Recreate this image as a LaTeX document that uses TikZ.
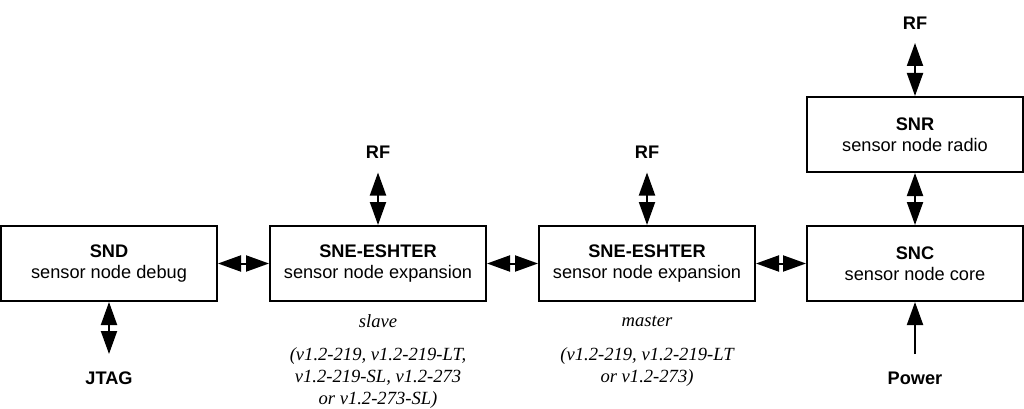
\documentclass[tikz,border=0pt]{standalone}
\usepackage{fontspec}
\setmainfont{Liberation Sans}
\newfontfamily\serifit{Liberation Serif}
\usetikzlibrary{arrows.meta}
\tikzset{
  blk/.style={draw=black, line width=2pt, minimum width=216pt, minimum height=75pt, align=center, inner sep=0pt, font=\fontsize{18.2}{21}\selectfont},
  lbl/.style={font=\fontsize{18.2}{21}\selectfont\bfseries, inner sep=0pt},
  note/.style={font=\fontsize{18.6}{22}\selectfont\serifit\itshape, align=center, inner sep=0pt},
  biarrow/.style={line width=2pt, {Triangle[length=23pt,width=16pt]}-{Triangle[length=23pt,width=16pt]}},
  uparrow/.style={line width=2pt, -{Triangle[length=23pt,width=16pt]}},
}
\begin{document}
\begin{tikzpicture}[x=1pt,y=-1pt]
\useasboundingbox[fill=white] (0,0) rectangle (1024,409);
\node[blk] (snd) at (109,263.5) {\textbf{SND}\\sensor node debug};
\node[blk] (sne1) at (378,263.5) {\textbf{SNE-ESHTER}\\sensor node expansion};
\node[blk] (sne2) at (647,263.5) {\textbf{SNE-ESHTER}\\sensor node expansion};
\node[blk] (snc) at (915,263.5) {\textbf{SNC}\\sensor node core};
\node[blk] (snr) at (915,134.5) {\textbf{SNR}\\sensor node radio};

\node[lbl] (rf1) at (378,152) {RF};
\node[lbl] (rf2) at (647,152) {RF};
\node[lbl] (rf3) at (915,23) {RF};
\node[lbl] (jtag) at (109,378) {JTAG};
\node[lbl] (power) at (915,378) {Power};

\coordinate (rf1e) at (378,172.5);
\coordinate (rf2e) at (647,172.5);
\coordinate (rf3e) at (915,43);
\coordinate (jtage) at (109,354);
\coordinate (powere) at (915,354);

\node[note] (slave) at (378,321) {slave};
\node[note] (master) at (647,321) {master};
\node[note, anchor=north] (v1) at (378,347) {(v1.2-219, v1.2-219-LT,\\v1.2-219-SL, v1.2-273\\or v1.2-273-SL)};
\node[note, anchor=north] (v2) at (647,347) {(v1.2-219, v1.2-219-LT\\or v1.2-273)};

\draw[biarrow] (snd.east) -- (sne1.west);
\draw[biarrow] (sne1.east) -- (sne2.west);
\draw[biarrow] (sne2.east) -- (snc.west);
\draw[biarrow] (sne1.north) -- (rf1e);
\draw[biarrow] (sne2.north) -- (rf2e);
\draw[biarrow] (snr.north) -- (rf3e);
\draw[biarrow] (snr.south) -- (snc.north);
\draw[biarrow] (snd.south) -- (jtage);
\draw[uparrow] (powere) -- (snc.south);
\end{tikzpicture}
\end{document}
